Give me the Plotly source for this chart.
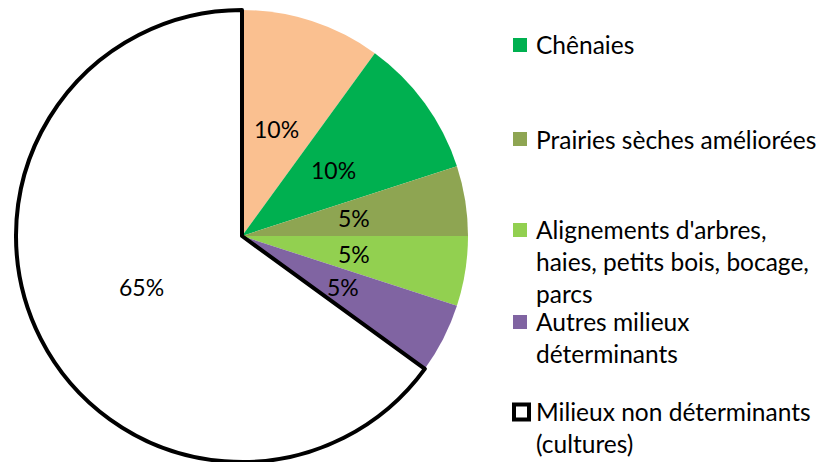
import math
import plotly.graph_objects as go

# Data
labels = ["Autres", "Chênaies", "Prairies sèches améliorées",
          "Alignements d'arbres, haies, petits bois, bocage, parcs",
          "Autres milieux déterminants", "Milieux non déterminants (cultures)"]
values = [10, 10, 5, 5, 5, 65]
colors = ["#FAC090", "#00B050", "#8EA552", "#92D050", "#8064A2", "#FFFFFF"]
legend_text = [None, "Chênaies", "Prairies sèches améliorées",
               "Alignements d'arbres,<br>haies, petits bois, bocage,<br>parcs",
               "Autres milieux<br>déterminants",
               "Milieux non déterminants<br>(cultures)"]

W, H = 822, 462
FONT = "Lato"
FS_LEG = 24.5
FS_PIE = 23

# pie geometry (px, from top-left)
CX, CY, R = 242, 236, 226

fig = go.Figure()
fig.add_trace(go.Pie(
    labels=labels, values=values, sort=False, direction="clockwise", rotation=0,
    marker=dict(colors=colors, line=dict(color="black", width=[0, 0, 0, 0, 0, 4])),
    textinfo="none",
    domain=dict(x=[(CX - R) / W, (CX + R) / W], y=[0, (H - CY + R) / H]),
    showlegend=False, hoverinfo="label+percent",
))

annotations = []
# percentage labels at half radius on each slice's mid-angle
total = sum(values)
cum = 0
for v in values:
    mid = (cum + v / 2) / total * 2 * math.pi
    cum += v
    px = CX + 0.5 * R * math.sin(mid)
    py = CY - 0.5 * R * math.cos(mid)
    annotations.append(dict(
        x=px / W, y=1 - py / H, xref="paper", yref="paper",
        xanchor="center", yanchor="middle", showarrow=False,
        text=f"{round(v / total * 100)}%",
        font=dict(family=FONT, size=FS_PIE, color="black")))

# manual legend (positions in px from top)
leg_centers = [None, 45, 139, 261.5, 337.5, 427.5]
sq_centers = [None, 45, 139, 230, 322, 412]
shapes = []
for i, txt in enumerate(legend_text):
    if txt is None:
        continue
    annotations.append(dict(
        x=534 / W, y=1 - leg_centers[i] / H, xref="paper", yref="paper",
        xanchor="left", yanchor="middle", align="left", showarrow=False,
        text=txt, font=dict(family=FONT, size=FS_LEG, color="black")))
    c = sq_centers[i]
    if i == 5:
        shapes.append(dict(type="rect", xref="paper", yref="paper",
                           x0=514 / W, x1=529 / W, y0=1 - (c - 7.5) / H, y1=1 - (c + 7.5) / H,
                           fillcolor="white", line=dict(color="black", width=4)))
    else:
        shapes.append(dict(type="rect", xref="paper", yref="paper",
                           x0=513 / W, x1=527 / W, y0=1 - (c - 7) / H, y1=1 - (c + 7) / H,
                           fillcolor=colors[i], line=dict(width=0)))

fig.update_layout(
    width=W, height=H, margin=dict(l=0, r=0, t=0, b=0),
    paper_bgcolor="white", plot_bgcolor="white",
    annotations=annotations, shapes=shapes,
    font=dict(family=FONT, size=FS_LEG, color="black"),
)
fig.write_html("out.html", config={"displayModeBar": False},
               post_script="document.body.style.margin='0';document.body.style.overflow='hidden';")
